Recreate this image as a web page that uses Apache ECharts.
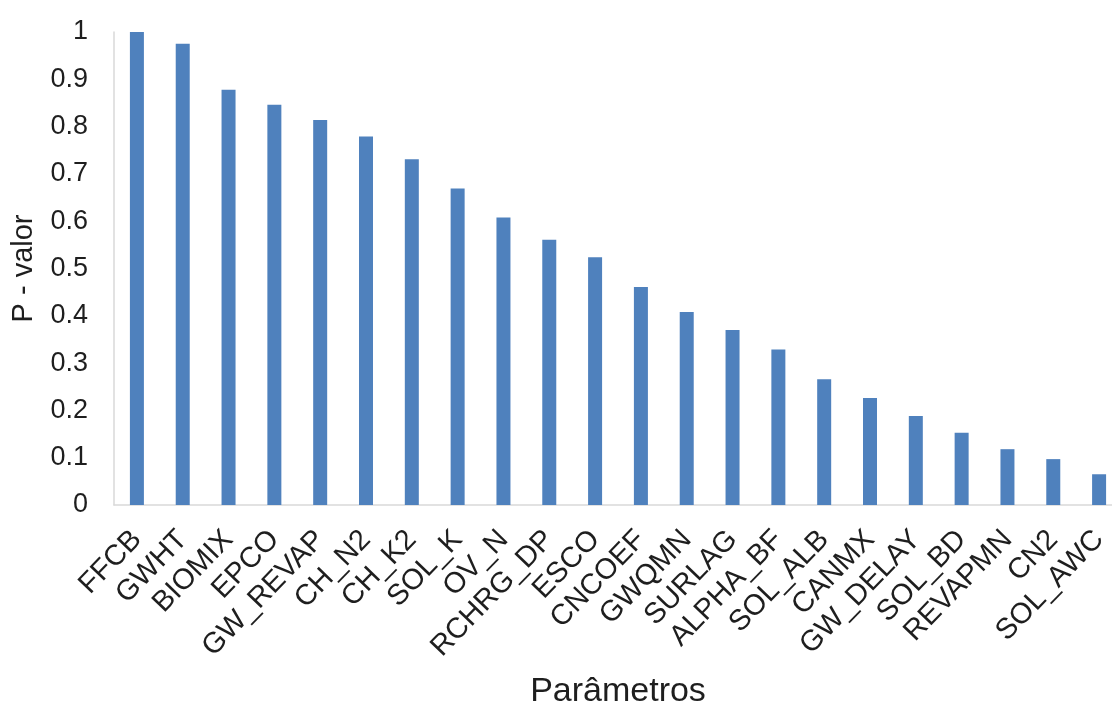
<!DOCTYPE html>
<html>
<head>
<meta charset="utf-8">
<script src="https://cdn.jsdelivr.net/npm/echarts@6/dist/echarts.min.js"></script>
<style>
html,body{margin:0;padding:0;background:#fff;}
#chart{width:1112px;height:706px;}
</style>
</head>
<body>
<div id="chart"></div>
<script>
const categories = ["FFCB","GWHT","BIOMIX","EPCO","GW_REVAP","CH_N2","CH_K2","SOL_K","OV_N","RCHRG_DP","ESCO","CNCOEF","GWQMN","SURLAG","ALPHA_BF","SOL_ALB","CANMX","GW_DELAY","SOL_BD","REVAPMN","CN2","SOL_AWC"];
const pValues = [1.0,0.975,0.878,0.846,0.814,0.779,0.731,0.669,0.608,0.561,0.524,0.461,0.408,0.370,0.329,0.266,0.226,0.188,0.153,0.118,0.097,0.065];
const yTickLabels = ["0","0.1","0.2","0.3","0.4","0.5","0.6","0.7","0.8","0.9","1"];

const chart = echarts.init(document.getElementById('chart'), null, {renderer:'canvas'});
const font = '"Liberation Sans", Arial, sans-serif';
const textColor = '#1e1e1e';
chart.setOption({
  animation: false,
  backgroundColor: '#ffffff',
  grid: {left: 114, top: 32, width: 1008, bottom: 201, containLabel: false, outerBoundsMode: 'none'},
  xAxis: {
    type: 'category',
    data: categories,
    name: 'Parâmetros',
    nameLocation: 'middle',
    nameGap: 170,
    nameTextStyle: {fontFamily: font, fontSize: 34, color: textColor},
    axisLine: {show: true, lineStyle: {color: '#d9d9d9', width: 1.5}},
    axisTick: {show: false},
    axisLabel: {rotate: 46, margin: 30, fontFamily: font, fontSize: 29, color: textColor, interval: 0}
  },
  yAxis: {
    type: 'value',
    min: 0, max: 1, interval: 0.1,
    name: 'P - valor',
    nameLocation: 'middle',
    nameRotate: 90,
    nameGap: 76,
    nameTextStyle: {fontFamily: font, fontSize: 29, color: textColor},
    axisLine: {show: true, lineStyle: {color: '#d9d9d9', width: 1.5}},
    axisTick: {show: false},
    splitLine: {show: false},
    axisLabel: {
      margin: 26, fontFamily: font, fontSize: 27, color: textColor,
      formatter: function (v) { return yTickLabels[Math.round(v * 10)]; }
    }
  },
  series: [{
    type: 'bar',
    data: pValues,
    barWidth: 14,
    itemStyle: {color: '#4F81BD'}
  }]
});
</script>
</body>
</html>
